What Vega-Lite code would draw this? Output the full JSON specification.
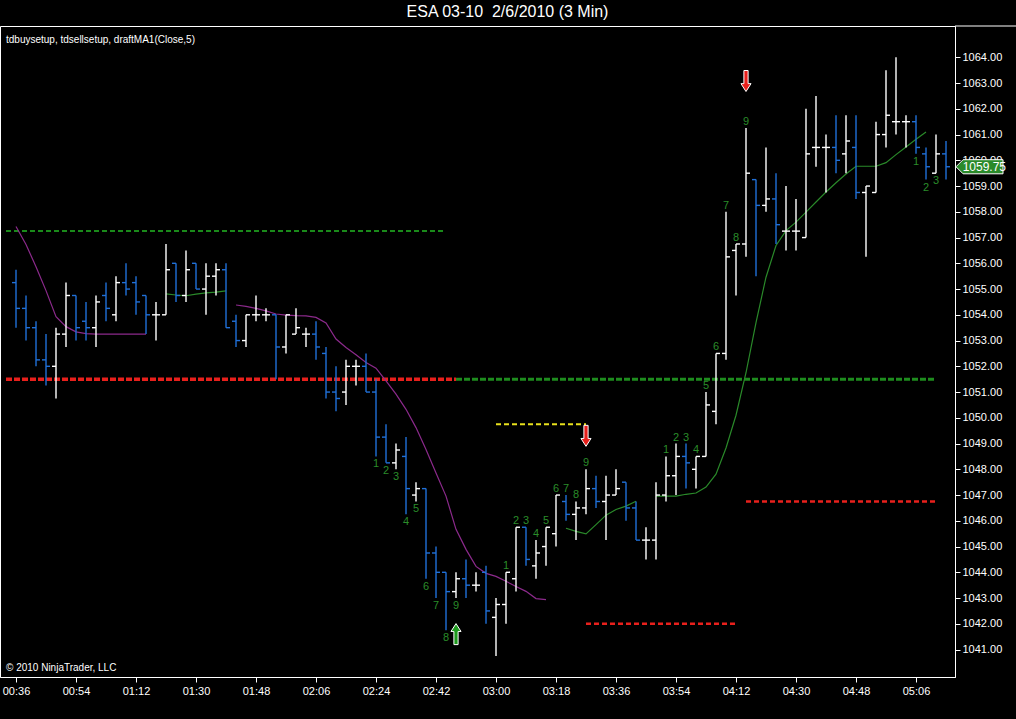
{
  "$schema": "https://vega.github.io/schema/vega-lite/v6.json",
  "width": 955,
  "height": 651,
  "autosize": {"type": "none"},
  "padding": {"left": 0, "top": 26, "right": 61, "bottom": 42},
  "background": "#000000",
  "title": {"text": "ESA 03-10\u00a0 2/6/2010 (3 Min)", "color": "#ffffff", "font": "Liberation Sans", "fontSize": 16, "fontWeight": "normal", "anchor": "middle", "dx": 30, "offset": -10, "baseline": "bottom"},
  "config": {
    "view": {"stroke": "#ffffff", "strokeWidth": 1, "fill": "#000000"},
    "axis": {"grid": false, "domainColor": "#ffffff", "tickColor": "#ffffff", "labelColor": "#ffffff", "labelFont": "Liberation Sans", "labelFontSize": 11, "tickSize": 5, "labelOverlap": false},
    "text": {"font": "Liberation Sans"}
  },
  "datasets": {
    "bars": [
      {"t":36,"o":1055.25,"h":1055.75,"l":1053.5,"c":1054.25},
      {"t":39,"o":1054.25,"h":1054.75,"l":1053.0,"c":1053.5},
      {"t":42,"o":1053.5,"h":1053.75,"l":1052.0,"c":1052.25},
      {"t":45,"o":1052.25,"h":1053.25,"l":1051.25,"c":1052.0},
      {"t":48,"o":1052.0,"h":1053.5,"l":1050.75,"c":1053.25},
      {"t":51,"o":1053.25,"h":1055.25,"l":1052.75,"c":1054.75},
      {"t":54,"o":1054.75,"h":1054.75,"l":1053.0,"c":1053.5},
      {"t":57,"o":1053.75,"h":1054.5,"l":1053.0,"c":1053.5},
      {"t":60,"o":1053.5,"h":1054.75,"l":1052.75,"c":1054.5},
      {"t":63,"o":1054.75,"h":1055.25,"l":1053.75,"c":1054.25},
      {"t":66,"o":1054.0,"h":1055.5,"l":1053.75,"c":1055.25},
      {"t":69,"o":1055.25,"h":1056.0,"l":1054.75,"c":1055.0},
      {"t":72,"o":1055.25,"h":1055.5,"l":1054.0,"c":1054.5},
      {"t":75,"o":1054.75,"h":1054.75,"l":1053.25,"c":1054.0},
      {"t":78,"o":1054.0,"h":1054.5,"l":1053.0,"c":1054.0},
      {"t":81,"o":1054.0,"h":1056.75,"l":1054.0,"c":1055.75},
      {"t":84,"o":1056.0,"h":1056.0,"l":1054.5,"c":1054.75},
      {"t":87,"o":1054.75,"h":1056.5,"l":1054.5,"c":1055.75},
      {"t":90,"o":1056.0,"h":1056.0,"l":1055.0,"c":1055.0},
      {"t":93,"o":1055.0,"h":1056.0,"l":1054.0,"c":1055.5},
      {"t":96,"o":1055.5,"h":1056.0,"l":1054.75,"c":1055.75},
      {"t":99,"o":1055.75,"h":1056.0,"l":1053.5,"c":1053.5},
      {"t":102,"o":1053.75,"h":1054.0,"l":1052.75,"c":1053.0},
      {"t":105,"o":1053.0,"h":1054.0,"l":1052.75,"c":1054.0},
      {"t":108,"o":1054.0,"h":1054.75,"l":1053.75,"c":1054.0},
      {"t":111,"o":1054.0,"h":1054.25,"l":1053.75,"c":1054.0},
      {"t":114,"o":1054.0,"h":1054.0,"l":1051.5,"c":1052.75},
      {"t":117,"o":1052.75,"h":1054.0,"l":1052.5,"c":1054.0},
      {"t":120,"o":1053.25,"h":1054.25,"l":1053.25,"c":1053.5},
      {"t":123,"o":1053.25,"h":1053.5,"l":1052.75,"c":1053.25},
      {"t":126,"o":1053.25,"h":1053.75,"l":1052.25,"c":1052.75},
      {"t":129,"o":1052.5,"h":1052.75,"l":1050.75,"c":1051.0},
      {"t":132,"o":1051.0,"h":1052.0,"l":1050.25,"c":1050.75},
      {"t":135,"o":1051.0,"h":1052.25,"l":1050.5,"c":1052.0},
      {"t":138,"o":1052.0,"h":1052.25,"l":1051.25,"c":1052.0},
      {"t":141,"o":1052.0,"h":1052.5,"l":1051.0,"c":1051.0},
      {"t":144,"o":1051.0,"h":1051.5,"l":1048.5,"c":1049.25,"buy":1},
      {"t":147,"o":1049.25,"h":1049.75,"l":1048.25,"c":1048.25,"buy":2},
      {"t":150,"o":1048.25,"h":1049.0,"l":1048.0,"c":1048.75,"buy":3},
      {"t":153,"o":1048.5,"h":1049.25,"l":1046.25,"c":1047.25,"buy":4},
      {"t":156,"o":1047.0,"h":1047.5,"l":1046.75,"c":1047.25,"buy":5},
      {"t":159,"o":1047.25,"h":1047.25,"l":1043.75,"c":1044.75,"buy":6},
      {"t":162,"o":1044.75,"h":1045.0,"l":1043.0,"c":1044.0,"buy":7},
      {"t":165,"o":1044.0,"h":1044.0,"l":1041.75,"c":1043.25,"buy":8},
      {"t":168,"o":1043.25,"h":1044.0,"l":1043.0,"c":1043.75,"buy":9},
      {"t":171,"o":1043.75,"h":1044.5,"l":1043.0,"c":1043.5},
      {"t":174,"o":1043.5,"h":1044.0,"l":1043.25,"c":1043.5},
      {"t":177,"o":1044.0,"h":1044.25,"l":1042.0,"c":1042.5},
      {"t":180,"o":1042.25,"h":1043.0,"l":1040.75,"c":1042.75},
      {"t":183,"o":1042.75,"h":1044.0,"l":1042.0,"c":1044.0,"sell":1},
      {"t":186,"o":1043.75,"h":1045.75,"l":1043.25,"c":1045.75,"sell":2},
      {"t":189,"o":1045.75,"h":1045.75,"l":1044.25,"c":1044.5,"sell":3},
      {"t":192,"o":1044.25,"h":1045.25,"l":1043.75,"c":1044.75,"sell":4},
      {"t":195,"o":1045.0,"h":1045.75,"l":1044.25,"c":1045.75,"sell":5},
      {"t":198,"o":1045.5,"h":1047.0,"l":1045.0,"c":1047.0,"sell":6},
      {"t":201,"o":1046.75,"h":1047.0,"l":1046.0,"c":1046.25,"sell":7},
      {"t":204,"o":1046.25,"h":1046.75,"l":1045.25,"c":1046.5,"sell":8},
      {"t":207,"o":1046.5,"h":1048.0,"l":1046.25,"c":1047.25,"sell":9},
      {"t":210,"o":1047.25,"h":1047.75,"l":1046.5,"c":1046.75},
      {"t":213,"o":1046.75,"h":1047.75,"l":1045.25,"c":1047.0},
      {"t":216,"o":1047.0,"h":1048.0,"l":1047.0,"c":1047.25},
      {"t":219,"o":1047.5,"h":1047.5,"l":1046.0,"c":1046.5},
      {"t":222,"o":1046.5,"h":1046.75,"l":1045.25,"c":1045.25},
      {"t":225,"o":1045.25,"h":1045.75,"l":1044.5,"c":1045.25},
      {"t":228,"o":1045.25,"h":1047.5,"l":1044.5,"c":1047.0},
      {"t":231,"o":1047.0,"h":1048.5,"l":1046.75,"c":1047.75,"sell":1},
      {"t":234,"o":1047.75,"h":1049.0,"l":1047.0,"c":1048.5,"sell":2},
      {"t":237,"o":1048.5,"h":1049.0,"l":1047.25,"c":1048.25,"sell":3},
      {"t":240,"o":1048.0,"h":1048.5,"l":1047.25,"c":1048.5,"sell":4},
      {"t":243,"o":1048.5,"h":1051.0,"l":1048.5,"c":1050.5,"sell":5},
      {"t":246,"o":1050.25,"h":1052.5,"l":1049.75,"c":1052.5,"sell":6},
      {"t":249,"o":1052.5,"h":1058.0,"l":1052.25,"c":1056.25,"sell":7},
      {"t":252,"o":1056.5,"h":1056.75,"l":1054.75,"c":1056.75,"sell":8},
      {"t":255,"o":1056.75,"h":1061.25,"l":1056.25,"c":1059.5,"sell":9},
      {"t":258,"o":1059.25,"h":1059.25,"l":1055.5,"c":1058.25},
      {"t":261,"o":1058.25,"h":1060.5,"l":1058.0,"c":1058.5},
      {"t":264,"o":1058.5,"h":1059.5,"l":1056.75,"c":1057.5},
      {"t":267,"o":1057.25,"h":1059.0,"l":1056.5,"c":1057.25},
      {"t":270,"o":1057.25,"h":1058.5,"l":1056.5,"c":1057.25},
      {"t":273,"o":1057.0,"h":1062.0,"l":1057.0,"c":1060.25},
      {"t":276,"o":1060.5,"h":1062.5,"l":1059.75,"c":1060.5},
      {"t":279,"o":1060.5,"h":1061.0,"l":1058.75,"c":1060.5},
      {"t":282,"o":1060.5,"h":1061.75,"l":1059.5,"c":1060.0},
      {"t":285,"o":1060.25,"h":1061.75,"l":1059.5,"c":1060.75},
      {"t":288,"o":1060.5,"h":1061.75,"l":1058.5,"c":1058.75},
      {"t":291,"o":1058.75,"h":1059.0,"l":1056.25,"c":1059.0},
      {"t":294,"o":1058.75,"h":1061.5,"l":1058.75,"c":1061.0},
      {"t":297,"o":1061.0,"h":1063.5,"l":1060.5,"c":1061.75},
      {"t":300,"o":1061.5,"h":1064.0,"l":1061.0,"c":1061.5},
      {"t":303,"o":1061.5,"h":1061.75,"l":1060.5,"c":1061.5},
      {"t":306,"o":1061.5,"h":1061.75,"l":1060.25,"c":1060.5,"buy":1},
      {"t":309,"o":1060.25,"h":1060.5,"l":1059.25,"c":1059.75,"buy":2},
      {"t":312,"o":1059.5,"h":1061.0,"l":1059.5,"c":1060.25,"buy":3},
      {"t":315,"o":1060.25,"h":1060.75,"l":1059.25,"c":1059.75}
    ],
    "ma": [
      {"t":36,"ma":1057.43,"seg":"A","dir":"down"},
      {"t":39,"ma":1056.73,"seg":"A","dir":"down"},
      {"t":42,"ma":1055.87,"seg":"A","dir":"down"},
      {"t":45,"ma":1054.94,"seg":"A","dir":"down"},
      {"t":48,"ma":1053.93,"seg":"A","dir":"down"},
      {"t":51,"ma":1053.54,"seg":"A","dir":"down"},
      {"t":54,"ma":1053.34,"seg":"A","dir":"down"},
      {"t":57,"ma":1053.27,"seg":"A","dir":"down"},
      {"t":60,"ma":1053.25,"seg":"A","dir":"down"},
      {"t":63,"ma":1053.25,"seg":"A","dir":"down"},
      {"t":66,"ma":1053.25,"seg":"A","dir":"down"},
      {"t":69,"ma":1053.25,"seg":"A","dir":"down"},
      {"t":72,"ma":1053.25,"seg":"A","dir":"down"},
      {"t":75,"ma":1053.25,"seg":"A","dir":"down"},
      {"t":81,"ma":1054.81,"seg":"B","dir":"up"},
      {"t":84,"ma":1054.77,"seg":"B","dir":"up"},
      {"t":87,"ma":1054.74,"seg":"B","dir":"up"},
      {"t":90,"ma":1054.8,"seg":"B","dir":"up"},
      {"t":93,"ma":1054.85,"seg":"B","dir":"up"},
      {"t":96,"ma":1054.88,"seg":"B","dir":"up"},
      {"t":99,"ma":1054.93,"seg":"B","dir":"up"},
      {"t":102,"ma":1054.38,"seg":"C","dir":"down"},
      {"t":105,"ma":1054.33,"seg":"C","dir":"down"},
      {"t":108,"ma":1054.25,"seg":"C","dir":"down"},
      {"t":111,"ma":1054.15,"seg":"C","dir":"down"},
      {"t":114,"ma":1054.03,"seg":"C","dir":"down"},
      {"t":117,"ma":1053.99,"seg":"C","dir":"down"},
      {"t":120,"ma":1053.97,"seg":"C","dir":"down"},
      {"t":123,"ma":1053.96,"seg":"C","dir":"down"},
      {"t":126,"ma":1053.9,"seg":"C","dir":"down"},
      {"t":129,"ma":1053.68,"seg":"C","dir":"down"},
      {"t":132,"ma":1053.06,"seg":"C","dir":"down"},
      {"t":135,"ma":1052.73,"seg":"C","dir":"down"},
      {"t":138,"ma":1052.45,"seg":"C","dir":"down"},
      {"t":141,"ma":1052.15,"seg":"C","dir":"down"},
      {"t":144,"ma":1051.93,"seg":"C","dir":"down"},
      {"t":147,"ma":1051.43,"seg":"C","dir":"down"},
      {"t":150,"ma":1050.92,"seg":"C","dir":"down"},
      {"t":153,"ma":1050.33,"seg":"C","dir":"down"},
      {"t":156,"ma":1049.62,"seg":"C","dir":"down"},
      {"t":159,"ma":1048.77,"seg":"C","dir":"down"},
      {"t":162,"ma":1047.86,"seg":"C","dir":"down"},
      {"t":165,"ma":1046.96,"seg":"C","dir":"down"},
      {"t":168,"ma":1045.67,"seg":"C","dir":"down"},
      {"t":171,"ma":1044.89,"seg":"C","dir":"down"},
      {"t":174,"ma":1044.23,"seg":"C","dir":"down"},
      {"t":177,"ma":1043.96,"seg":"C","dir":"down"},
      {"t":180,"ma":1043.84,"seg":"C","dir":"down"},
      {"t":183,"ma":1043.65,"seg":"C","dir":"down"},
      {"t":186,"ma":1043.45,"seg":"C","dir":"down"},
      {"t":189,"ma":1043.26,"seg":"C","dir":"down"},
      {"t":192,"ma":1042.98,"seg":"C","dir":"down"},
      {"t":195,"ma":1042.94,"seg":"C","dir":"down"},
      {"t":201,"ma":1045.71,"seg":"D","dir":"up"},
      {"t":204,"ma":1045.59,"seg":"D","dir":"up"},
      {"t":207,"ma":1045.49,"seg":"D","dir":"up"},
      {"t":210,"ma":1045.85,"seg":"D","dir":"up"},
      {"t":213,"ma":1046.22,"seg":"D","dir":"up"},
      {"t":216,"ma":1046.44,"seg":"D","dir":"up"},
      {"t":219,"ma":1046.57,"seg":"D","dir":"up"},
      {"t":222,"ma":1046.76,"seg":"D","dir":"up"},
      {"t":228,"ma":1046.96,"seg":"E","dir":"up"},
      {"t":231,"ma":1046.96,"seg":"E","dir":"up"},
      {"t":234,"ma":1046.96,"seg":"E","dir":"up"},
      {"t":237,"ma":1047.03,"seg":"E","dir":"up"},
      {"t":240,"ma":1047.08,"seg":"E","dir":"up"},
      {"t":243,"ma":1047.31,"seg":"E","dir":"up"},
      {"t":246,"ma":1047.81,"seg":"E","dir":"up"},
      {"t":249,"ma":1048.83,"seg":"E","dir":"up"},
      {"t":252,"ma":1050.1,"seg":"E","dir":"up"},
      {"t":255,"ma":1051.75,"seg":"E","dir":"up"},
      {"t":258,"ma":1053.7,"seg":"E","dir":"up"},
      {"t":261,"ma":1055.46,"seg":"E","dir":"up"},
      {"t":264,"ma":1056.69,"seg":"E","dir":"up"},
      {"t":267,"ma":1057.27,"seg":"E","dir":"up"},
      {"t":270,"ma":1057.6,"seg":"E","dir":"up"},
      {"t":273,"ma":1057.99,"seg":"E","dir":"up"},
      {"t":276,"ma":1058.38,"seg":"E","dir":"up"},
      {"t":279,"ma":1058.77,"seg":"E","dir":"up"},
      {"t":282,"ma":1059.13,"seg":"E","dir":"up"},
      {"t":285,"ma":1059.47,"seg":"E","dir":"up"},
      {"t":288,"ma":1059.77,"seg":"E","dir":"up"},
      {"t":291,"ma":1059.77,"seg":"E","dir":"up"},
      {"t":294,"ma":1059.77,"seg":"E","dir":"up"},
      {"t":297,"ma":1059.91,"seg":"E","dir":"up"},
      {"t":300,"ma":1060.22,"seg":"E","dir":"up"},
      {"t":303,"ma":1060.52,"seg":"E","dir":"up"},
      {"t":306,"ma":1060.82,"seg":"E","dir":"up"},
      {"t":309,"ma":1061.1,"seg":"E","dir":"up"}
    ],
    "levels": [
      {"t1":33,"t2":165,"p":1057.25,"kind":"green_thin"},
      {"t1":33,"t2":168,"p":1051.5,"kind":"red_thick"},
      {"t1":168,"t2":312,"p":1051.5,"kind":"green_thick"},
      {"t1":180,"t2":207,"p":1049.75,"kind":"yellow"},
      {"t1":207,"t2":252,"p":1042.0,"kind":"red_thin"},
      {"t1":255,"t2":312,"p":1046.75,"kind":"red_thin"}
    ],
    "arrows": [
      {"t":168,"p":1041.6,"dir":"up"},
      {"t":207,"p":1049.3,"dir":"down"},
      {"t":255,"p":1063.08,"dir":"down"}
    ]
  },
  "layer": [
    {
      "data": {"values": [{"a": 317.7, "b": 340, "p": 1065.216}]},
      "mark": {"type": "rule", "strokeWidth": 1, "color": "#ffffff", "clip": false},
      "encoding": {
        "x": {"field": "a", "type": "quantitative", "title": null, "scale": {"domain": [31.2, 317.7], "nice": false, "zero": false}},
        "x2": {"field": "b"},
        "y": {"field": "p", "type": "quantitative", "title": null, "scale": {"domain": [1039.934, 1065.216], "nice": false, "zero": false}}
      }
    },
    {
      "data": {"name": "levels"},
      "transform": [{"filter": "datum.kind == 'green_thin'"}],
      "mark": {"type": "rule", "strokeWidth": 2, "strokeDash": [5, 3], "color": "#1a8a1a"},
      "encoding": {
        "x": {"field": "t1", "type": "quantitative", "title": null, "scale": {"domain": [31.2, 317.7], "nice": false, "zero": false}},
        "x2": {"field": "t2"},
        "y": {"field": "p", "type": "quantitative", "title": null, "scale": {"domain": [1039.934, 1065.216], "nice": false, "zero": false}}
      }
    },
    {
      "data": {"name": "levels"},
      "transform": [{"filter": "datum.kind == 'red_thick'"}],
      "mark": {"type": "rule", "strokeWidth": 3.5, "strokeDash": [6, 2], "color": "#e8201c"},
      "encoding": {
        "x": {"field": "t1", "type": "quantitative", "title": null, "scale": {"domain": [31.2, 317.7], "nice": false, "zero": false}},
        "x2": {"field": "t2"},
        "y": {"field": "p", "type": "quantitative", "title": null, "scale": {"domain": [1039.934, 1065.216], "nice": false, "zero": false}}
      }
    },
    {
      "data": {"name": "levels"},
      "transform": [{"filter": "datum.kind == 'green_thick'"}],
      "mark": {"type": "rule", "strokeWidth": 3, "strokeDash": [6, 2], "color": "#1e8c1e"},
      "encoding": {
        "x": {"field": "t1", "type": "quantitative", "title": null, "scale": {"domain": [31.2, 317.7], "nice": false, "zero": false}},
        "x2": {"field": "t2"},
        "y": {"field": "p", "type": "quantitative", "title": null, "scale": {"domain": [1039.934, 1065.216], "nice": false, "zero": false}}
      }
    },
    {
      "data": {"name": "levels"},
      "transform": [{"filter": "datum.kind == 'yellow'"}],
      "mark": {"type": "rule", "strokeWidth": 2, "strokeDash": [5, 3], "color": "#e8e01c"},
      "encoding": {
        "x": {"field": "t1", "type": "quantitative", "title": null, "scale": {"domain": [31.2, 317.7], "nice": false, "zero": false}},
        "x2": {"field": "t2"},
        "y": {"field": "p", "type": "quantitative", "title": null, "scale": {"domain": [1039.934, 1065.216], "nice": false, "zero": false}}
      }
    },
    {
      "data": {"name": "levels"},
      "transform": [{"filter": "datum.kind == 'red_thin'"}],
      "mark": {"type": "rule", "strokeWidth": 2.5, "strokeDash": [5, 3], "color": "#e8201c"},
      "encoding": {
        "x": {"field": "t1", "type": "quantitative", "title": null, "scale": {"domain": [31.2, 317.7], "nice": false, "zero": false}},
        "x2": {"field": "t2"},
        "y": {"field": "p", "type": "quantitative", "title": null, "scale": {"domain": [1039.934, 1065.216], "nice": false, "zero": false}}
      }
    },
    {
      "data": {"name": "ma"},
      "mark": {"type": "line", "strokeWidth": 1.2},
      "encoding": {
        "x": {"field": "t", "type": "quantitative", "title": null, "scale": {"domain": [31.2, 317.7], "nice": false, "zero": false}},
        "y": {"field": "ma", "type": "quantitative", "title": null, "scale": {"domain": [1039.934, 1065.216], "nice": false, "zero": false}},
        "color": {"field": "dir", "type": "nominal", "scale": {"domain": ["down", "up"], "range": ["#8c2a8c", "#2a8a2a"]}, "legend": null},
        "detail": {"field": "seg"}
      }
    },
    {
      "data": {"name": "bars"},
      "mark": {"type": "rule", "strokeWidth": 1.4},
      "encoding": {
        "x": {"field": "t", "type": "quantitative", "title": null, "scale": {"domain": [31.2, 317.7], "nice": false, "zero": false},
              "axis": {"orient": "bottom", "values": [36, 54, 72, 90, 108, 126, 144, 162, 180, 198, 216, 234, 252, 270, 288, 306], "tickCount": 40, "labelExpr": "pad(floor(datum.value/60),2,'0','left') + ':' + pad(datum.value%60,2,'0','left')", "labelPadding": 3, "labelOverlap": false}},
        "y": {"field": "l", "type": "quantitative", "title": null, "scale": {"domain": [1039.934, 1065.216], "nice": false, "zero": false},
              "axis": {"orient": "right", "values": [1041,1042,1043,1044,1045,1046,1047,1048,1049,1050,1051,1052,1053,1054,1055,1056,1057,1058,1059,1060,1061,1062,1063,1064], "tickCount": 40, "format": ".2f", "labelPadding": 2, "labelOverlap": false}},
        "y2": {"field": "h"},
        "color": {"condition": {"test": "datum.c >= datum.o", "value": "#ffffff"}, "value": "#2070d8"}
      }
    },
    {
      "data": {"name": "bars"},
      "mark": {"type": "rule", "strokeWidth": 1.4, "xOffset": -4, "x2Offset": 0},
      "encoding": {
        "x": {"field": "t", "type": "quantitative", "title": null, "scale": {"domain": [31.2, 317.7], "nice": false, "zero": false}},
        "x2": {"field": "t"},
        "y": {"field": "o", "type": "quantitative", "title": null, "scale": {"domain": [1039.934, 1065.216], "nice": false, "zero": false}},
        "color": {"condition": {"test": "datum.c >= datum.o", "value": "#ffffff"}, "value": "#2070d8"}
      }
    },
    {
      "data": {"name": "bars"},
      "mark": {"type": "rule", "strokeWidth": 1.4, "xOffset": 0, "x2Offset": 4},
      "encoding": {
        "x": {"field": "t", "type": "quantitative", "title": null, "scale": {"domain": [31.2, 317.7], "nice": false, "zero": false}},
        "x2": {"field": "t"},
        "y": {"field": "c", "type": "quantitative", "title": null, "scale": {"domain": [1039.934, 1065.216], "nice": false, "zero": false}},
        "color": {"condition": {"test": "datum.c >= datum.o", "value": "#ffffff"}, "value": "#2070d8"}
      }
    },
    {
      "data": {"name": "bars"},
      "transform": [{"filter": "isValid(datum.sell)"}],
      "mark": {"type": "text", "fontSize": 11, "color": "#2a8c2a", "baseline": "bottom", "dy": -1},
      "encoding": {
        "x": {"field": "t", "type": "quantitative", "title": null, "scale": {"domain": [31.2, 317.7], "nice": false, "zero": false}},
        "y": {"field": "h", "type": "quantitative", "title": null, "scale": {"domain": [1039.934, 1065.216], "nice": false, "zero": false}},
        "text": {"field": "sell"}
      }
    },
    {
      "data": {"name": "bars"},
      "transform": [{"filter": "isValid(datum.buy)"}],
      "mark": {"type": "text", "fontSize": 11, "color": "#2a8c2a", "baseline": "top", "dy": 2},
      "encoding": {
        "x": {"field": "t", "type": "quantitative", "title": null, "scale": {"domain": [31.2, 317.7], "nice": false, "zero": false}},
        "y": {"field": "l", "type": "quantitative", "title": null, "scale": {"domain": [1039.934, 1065.216], "nice": false, "zero": false}},
        "text": {"field": "buy"}
      }
    },
    {
      "data": {"name": "arrows"},
      "transform": [{"filter": "datum.dir == 'down'"}],
      "mark": {"type": "point", "filled": true, "shape": "M-0.2,-1L0.2,-1L0.2,0.25L0.48,0.25L0,1L-0.48,0.25L-0.2,0.25Z", "size": 441, "fill": "#e8201c", "stroke": "#ffffff", "strokeWidth": 1, "opacity": 1},
      "encoding": {
        "x": {"field": "t", "type": "quantitative", "title": null, "scale": {"domain": [31.2, 317.7], "nice": false, "zero": false}},
        "y": {"field": "p", "type": "quantitative", "title": null, "scale": {"domain": [1039.934, 1065.216], "nice": false, "zero": false}}
      }
    },
    {
      "data": {"name": "arrows"},
      "transform": [{"filter": "datum.dir == 'up'"}],
      "mark": {"type": "point", "filled": true, "shape": "M-0.2,1L0.2,1L0.2,-0.25L0.48,-0.25L0,-1L-0.48,-0.25L-0.2,-0.25Z", "size": 441, "fill": "#1e9a1e", "stroke": "#ffffff", "strokeWidth": 1, "opacity": 1},
      "encoding": {
        "x": {"field": "t", "type": "quantitative", "title": null, "scale": {"domain": [31.2, 317.7], "nice": false, "zero": false}},
        "y": {"field": "p", "type": "quantitative", "title": null, "scale": {"domain": [1039.934, 1065.216], "nice": false, "zero": false}}
      }
    },
    {
      "data": {"name": "bars"},
      "transform": [{"filter": "datum.t == 315"}],
      "mark": {"type": "point", "filled": true, "shape": "M-1,0L-0.7,-0.3L1,-0.3L1,0.3L-0.7,0.3Z", "size": 2209, "fill": "#2a8a2a", "stroke": "#ffffff", "strokeWidth": 1, "opacity": 1},
      "encoding": {
        "x": {"datum": 325.05, "type": "quantitative", "scale": {"domain": [31.2, 317.7], "nice": false, "zero": false}},
        "y": {"field": "c", "type": "quantitative", "title": null, "scale": {"domain": [1039.934, 1065.216], "nice": false, "zero": false}}
      }
    },
    {
      "data": {"name": "bars"},
      "transform": [{"filter": "datum.t == 315"}],
      "mark": {"type": "text", "fontSize": 12, "color": "#ffffff", "align": "center", "baseline": "middle"},
      "encoding": {
        "x": {"datum": 326.5, "type": "quantitative", "scale": {"domain": [31.2, 317.7], "nice": false, "zero": false}},
        "y": {"field": "c", "type": "quantitative", "title": null, "scale": {"domain": [1039.934, 1065.216], "nice": false, "zero": false}},
        "text": {"field": "c", "format": ".2f"}
      }
    },
    {
      "data": {"values": [{"label": "tdbuysetup, tdsellsetup, draftMA1(Close,5)"}]},
      "mark": {"type": "text", "fontSize": 10, "color": "#ffffff", "align": "left", "baseline": "middle"},
      "encoding": {
        "x": {"datum": 33, "type": "quantitative", "scale": {"domain": [31.2, 317.7], "nice": false, "zero": false}},
        "y": {"datum": 1064.67, "type": "quantitative", "scale": {"domain": [1039.934, 1065.216], "nice": false, "zero": false}},
        "text": {"field": "label"}
      }
    },
    {
      "data": {"values": [{"label": "\u00a9 2010 NinjaTrader, LLC"}]},
      "mark": {"type": "text", "fontSize": 10, "color": "#ffffff", "align": "left", "baseline": "middle"},
      "encoding": {
        "x": {"datum": 33, "type": "quantitative", "scale": {"domain": [31.2, 317.7], "nice": false, "zero": false}},
        "y": {"datum": 1040.28, "type": "quantitative", "scale": {"domain": [1039.934, 1065.216], "nice": false, "zero": false}},
        "text": {"field": "label"}
      }
    }
  ]
}
